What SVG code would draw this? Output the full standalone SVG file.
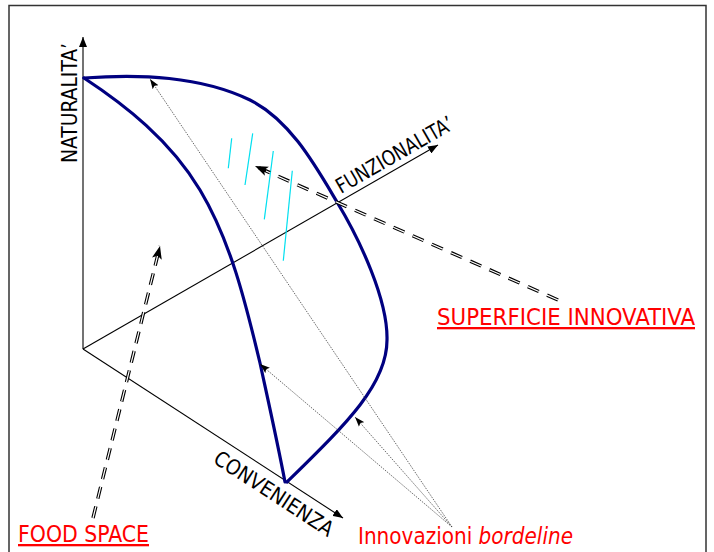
<svg xmlns="http://www.w3.org/2000/svg" width="714" height="552" viewBox="0 0 714 552">
  <style>
    .axis { fill: none; stroke: #000; stroke-width: 1.1; }
    .axislbl { font-family: "DejaVu Sans Condensed", "DejaVu Sans", sans-serif; font-size: 21px; fill: #000; }
    .red { font-family: "DejaVu Sans Condensed", "DejaVu Sans", sans-serif; font-size: 23px; fill: #ff0000; }
    .surf { fill: none; stroke: #000080; stroke-width: 3.2; stroke-linejoin: round; stroke-linecap: round; }
    .hatch { stroke: #00e0f0; stroke-width: 1.2; }
    .dot { fill: none; stroke: #444; stroke-width: 0.8; stroke-dasharray: 1.5 1.2; }
    .dbl-o { fill: none; stroke: #000; stroke-width: 3.4; }
    .dbl-i { fill: none; stroke: #fff; stroke-width: 1.2; }
  </style>
  <defs>
    <marker id="axhead" markerUnits="userSpaceOnUse" markerWidth="10" markerHeight="8" refX="10" refY="4" orient="auto">
      <path d="M0,0 L10,4 L0,8 Z" fill="#000"/>
    </marker>
    <marker id="smallhead" markerUnits="userSpaceOnUse" markerWidth="10" markerHeight="8" refX="10" refY="4" orient="auto">
      <path d="M0,0.5 L10,4 L0,7.5 L2,4 Z" fill="#000"/>
    </marker>
    <marker id="bighead" markerUnits="userSpaceOnUse" markerWidth="13" markerHeight="10" refX="13" refY="5" orient="auto">
      <path d="M0,0 L13,5 L0,10 L3,5 Z" fill="#000"/>
    </marker>
  </defs>

  <rect x="9" y="5.5" width="697" height="560" fill="none" stroke="#333" stroke-width="1.5"/>

  <g id="axes">
    <line x1="83" y1="349" x2="83" y2="37" stroke="#444" stroke-width="1.5" marker-end="url(#axhead)"/>
    <line class="axis" x1="83" y1="349" x2="438" y2="145" marker-end="url(#axhead)"/>
    <line class="axis" x1="83" y1="349" x2="343" y2="518" marker-end="url(#axhead)"/>
  </g>

  <g id="axis-labels">
    <text class="axislbl" x="77" y="163" transform="rotate(-90 77 163)" textLength="120" lengthAdjust="spacingAndGlyphs">NATURALITA’</text>
    <text class="axislbl" x="341" y="194" transform="rotate(-30 341 194)" textLength="132" lengthAdjust="spacingAndGlyphs">FUNZIONALITA’</text>
    <text class="axislbl" x="212" y="462" transform="rotate(33 212 462)" textLength="138" lengthAdjust="spacingAndGlyphs">CONVENIENZA</text>
  </g>

  <g id="surface">
    <path class="surf" d="M84,78 C140,74 200,76 250,100 C290,120 315,165 337,202 C360,240 388,300 387,340 C387,385 345,425 287,482"/>
    <path class="surf" d="M84,78 C125,105 170,140 200,190 C230,240 245,300 260,363 C268,400 277,440 285,482"/>
    <line class="hatch" x1="231.7" y1="138.3" x2="228.3" y2="168.3"/>
    <line class="hatch" x1="252.7" y1="133.3" x2="245" y2="185"/>
    <line class="hatch" x1="273.3" y1="151" x2="264.3" y2="219.3"/>
    <line class="hatch" x1="292.3" y1="170.7" x2="283.3" y2="260.7"/>
  </g>

  <g id="connectors">
    <path class="dot" d="M452,527 L150,79" marker-end="url(#smallhead)"/>
    <path class="dot" d="M452,527 L260,364" marker-end="url(#smallhead)"/>
    <path class="dot" d="M452,527 L355,417" marker-end="url(#smallhead)"/>
    <path class="dbl-o" d="M558,300 L255,166" stroke-dasharray="12 9" marker-end="url(#bighead)"/>
    <path class="dbl-i" d="M558,300 L266,171" stroke-dasharray="12 9"/>
    <path class="dbl-o" d="M93,518 L160,246" stroke-dasharray="12 8" marker-end="url(#bighead)"/>
    <path class="dbl-i" d="M93,518 L157.5,256" stroke-dasharray="12 8"/>
  </g>

  <g id="label-superficie">
    <text class="red" x="437" y="325" text-decoration="underline" textLength="258" lengthAdjust="spacingAndGlyphs">SUPERFICIE INNOVATIVA</text>
  </g>
  <g id="label-food">
    <text class="red" x="18" y="542" text-decoration="underline" textLength="131" lengthAdjust="spacingAndGlyphs">FOOD SPACE</text>
  </g>
  <g id="label-innovazioni">
    <text class="red" x="358" y="544" textLength="215" lengthAdjust="spacingAndGlyphs">Innovazioni <tspan font-style="italic">bordeline</tspan></text>
  </g>
</svg>
